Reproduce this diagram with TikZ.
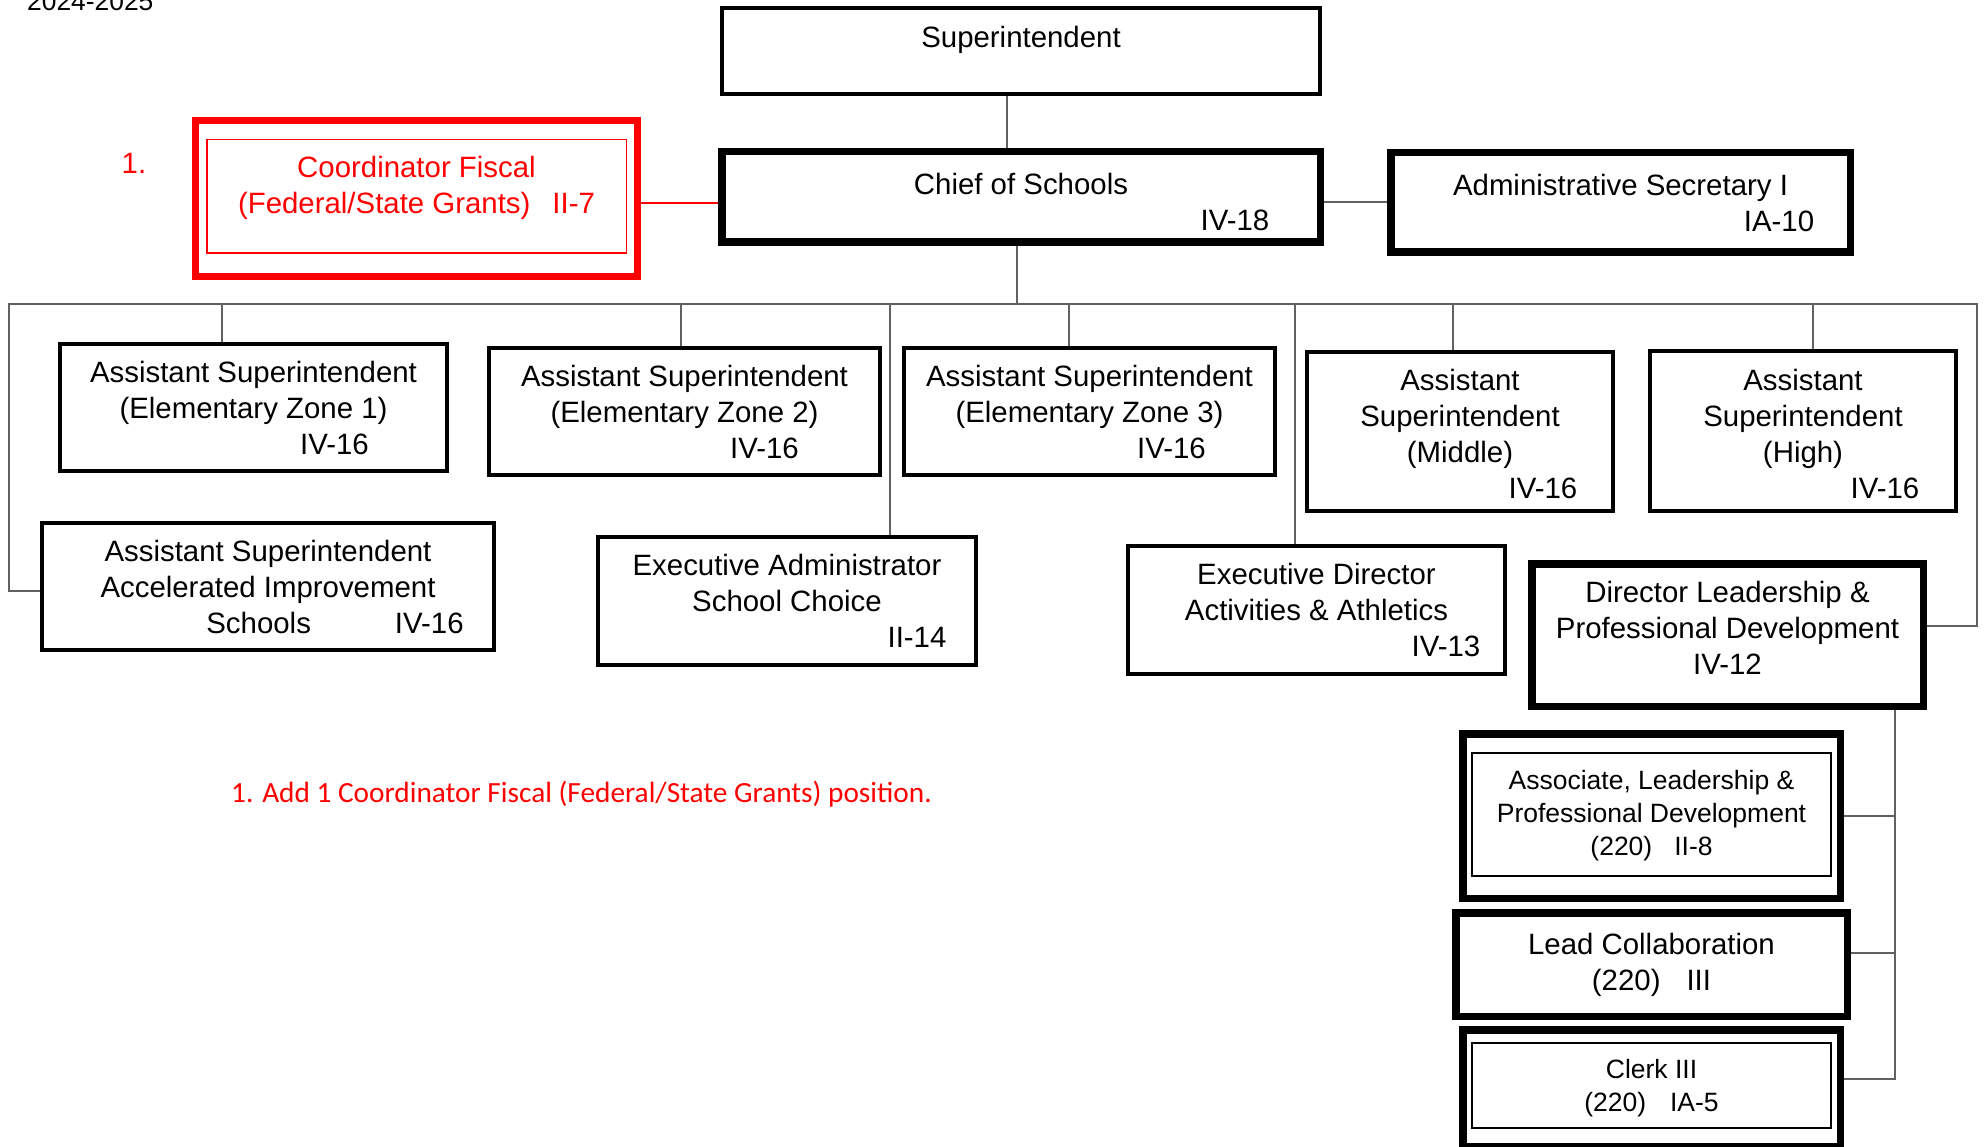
\documentclass[tikz,border=0pt]{standalone}
\usepackage{fontspec}
\setmainfont{Liberation Sans}
\newfontfamily\notefont{Carlito}
\usetikzlibrary{calc}
\newcommand\orgfont{\fontsize{29.4}{36}\selectfont}
\newcommand\subfont{\fontsize{26.5}{33}\selectfont}
\tikzset{
  post/.style={
    rectangle, draw=black, line width=4pt, inner sep=0pt,
    align=center, font=\orgfont,
  },
  keypost/.style={post, line width=7.5pt},
  link/.style={draw=linkgray, line width=2pt},
}

\begin{document}
\begin{tikzpicture}[x=1pt, y=-1pt]
% Defining colors
\definecolor{linkgray}{rgb}{0.38, 0.38, 0.38}
\definecolor{addred}{rgb}{1.0, 0.0, 0.0}

\useasboundingbox (0, 0) rectangle (1984, 1147);

% =:=:=:=:=:=:=:=:=:=:=:=:=:=:=:=:=:=:=
% Top of the chart
% =:=:=:=:=:=:=:=:=:=:=:=:=:=:=:=:=:=:=
\node[anchor=base west, inner sep=0pt, font=\fontsize{26.4}{30}\selectfont]
    (year) at (27, 11) {2024-2025};

\node[post, minimum width=598pt, minimum height=86pt, text depth=29pt]
    (super) at (1021, 51) {Superintendent};

\node[keypost, minimum width=598.5pt, minimum height=90.5pt]
    (chief) at (1021, 197)
    {\rule{0pt}{30.5pt}Chief of Schools\\\hspace*{428pt}IV-18};

\node[keypost, minimum width=459.5pt, minimum height=99.5pt]
    (admin) at (1620.5, 202.5)
    {Administrative Secretary I\\\hspace*{317pt}IA-10};

% new position (red)
\node[keypost, draw=addred, text=addred, line width=7pt,
      minimum width=442pt, minimum height=156pt, text depth=27pt]
    (coord) at (416.5, 198.5)
    {Coordinator Fiscal\\(Federal/State Grants)\hspace{22pt}II-7};
\draw[addred, line width=1.5pt]
    ([shift={(14.75, 22.75)}]coord.north west)
    rectangle ([shift={(-14.75, -26.75)}]coord.south east);
\node[inner sep=0pt, text=addred, font=\orgfont] (mark) at (134, 163) {1.};

% =:=:=:=:=:=:=:=:=:=:=:=:=:=:=:=:=:=:=
% Second row
% =:=:=:=:=:=:=:=:=:=:=:=:=:=:=:=:=:=:=
\node[post, minimum width=387pt, minimum height=127pt]
    (e1) at (253.5, 407.5)
    {Assistant Superintendent\\(Elementary Zone 1)\\\hspace*{162pt}IV-16};
\node[post, minimum width=391pt, minimum height=127pt]
    (e2) at (684.5, 411.5)
    {Assistant Superintendent\\(Elementary Zone 2)\\\hspace*{160pt}IV-16};
\node[post, minimum width=371pt, minimum height=127pt]
    (e3) at (1089.5, 411.5)
    {Assistant Superintendent\\(Elementary Zone 3)\\\hspace*{164pt}IV-16};
\node[post, minimum width=306pt, minimum height=159pt]
    (mid) at (1460, 431.5)
    {\rule{0pt}{26.5pt}Assistant\\Superintendent\\(Middle)\\\hspace*{166pt}IV-16};
\node[post, minimum width=306pt, minimum height=160pt]
    (high) at (1803, 431)
    {\rule{0pt}{26.5pt}Assistant\\Superintendent\\(High)\\\hspace*{164pt}IV-16};

% =:=:=:=:=:=:=:=:=:=:=:=:=:=:=:=:=:=:=
% Third row
% =:=:=:=:=:=:=:=:=:=:=:=:=:=:=:=:=:=:=
\node[post, minimum width=452pt, minimum height=127pt]
    (acc) at (268, 586.5)
    {Assistant Superintendent\\Accelerated Improvement\\
     \hspace*{134pt}Schools\hspace{84pt}IV-16};
\node[post, minimum width=378pt, minimum height=128pt]
    (exadm) at (787, 601)
    {Executive Administrator\\School Choice\\\hspace*{260pt}II-14};
\node[post, minimum width=377pt, minimum height=128pt]
    (exdir) at (1316.5, 610)
    {Executive Director\\Activities \& Athletics\\\hspace*{259pt}IV-13};
\node[keypost, minimum width=391.5pt, minimum height=142.5pt, text depth=15pt]
    (dir) at (1727.5, 635)
    {Director Leadership \&\\Professional Development\\IV-12};

% =:=:=:=:=:=:=:=:=:=:=:=:=:=:=:=:=:=:=
% Under the director
% =:=:=:=:=:=:=:=:=:=:=:=:=:=:=:=:=:=:=
\node[keypost, font=\subfont, minimum width=377.5pt, minimum height=164.5pt]
    (assoc) at (1651.5, 816)
    {Associate, Leadership \&\\Professional Development\\(220)\hspace{22pt}II-8};
\draw[line width=1.5pt]
    ([shift={(13, 23)}]assoc.north west)
    rectangle ([shift={(-13, -26)}]assoc.south east);

\node[keypost, minimum width=391.5pt, minimum height=103.5pt]
    (lead) at (1651.5, 964.5)
    {Lead Collaboration\\(220)\hspace{26pt}III};

\node[keypost, font=\subfont, minimum width=377.5pt, minimum height=116.5pt]
    (clerk) at (1651.5, 1088)
    {Clerk III\\(220)\hspace{24pt}IA-5};
\draw[line width=1.5pt]
    ([shift={(13, 17)}]clerk.north west)
    rectangle ([shift={(-13, -22)}]clerk.south east);

% =:=:=:=:=:=:=:=:=:=:=:=:=:=:=:=:=:=:=
% Connectors
% =:=:=:=:=:=:=:=:=:=:=:=:=:=:=:=:=:=:=
\coordinate (tapSup) at (1007, 0);
\coordinate (tapBus) at (1017, 304);
\coordinate (busL) at (9, 304);
\coordinate (busR) at (1977, 304);
\coordinate (spine) at (1895, 0);

\draw[link] (super.south -| tapSup) -- (chief.north -| tapSup);
\draw[link] (chief.east |- admin.west) -- (admin.west);
\draw[link, draw=addred]
    ([yshift=-4.5pt]coord.east) -- ([yshift=-4.5pt]coord.east -| chief.west);
\draw[link] (chief.south -| tapBus) -- (tapBus);

% the bus
\draw[link] ([yshift=-4.5pt]acc.west) -| (busL) -- (busR) |- ([yshift=9pt]dir.east);
\foreach \n/\x in {e1/222, e2/681, exadm/890, e3/1069, exdir/1295, mid/1453, high/1813}
{
  \coordinate (tap-\n) at (\x, 304);
  \draw[link] (tap-\n) -- (\n.north -| tap-\n);
}

% director's spine
\draw[link] (dir.south -| spine) |- ([yshift=9pt]clerk.east);
\draw[link] (assoc.east) -- (assoc.east -| spine);
\draw[link] ([yshift=11.5pt]lead.east) -- ([yshift=11.5pt]lead.east -| spine);

% =:=:=:=:=:=:=:=:=:=:=:=:=:=:=:=:=:=:=
% Note
% =:=:=:=:=:=:=:=:=:=:=:=:=:=:=:=:=:=:=
\node[anchor=west, inner sep=0pt, text=addred,
      font=\notefont\fontsize{29.3}{34}\selectfont]
    (note) at (231, 794)
    {1. Add 1 Coordinator Fiscal (Federal/State Grants) position.};

\end{tikzpicture}
\end{document}
